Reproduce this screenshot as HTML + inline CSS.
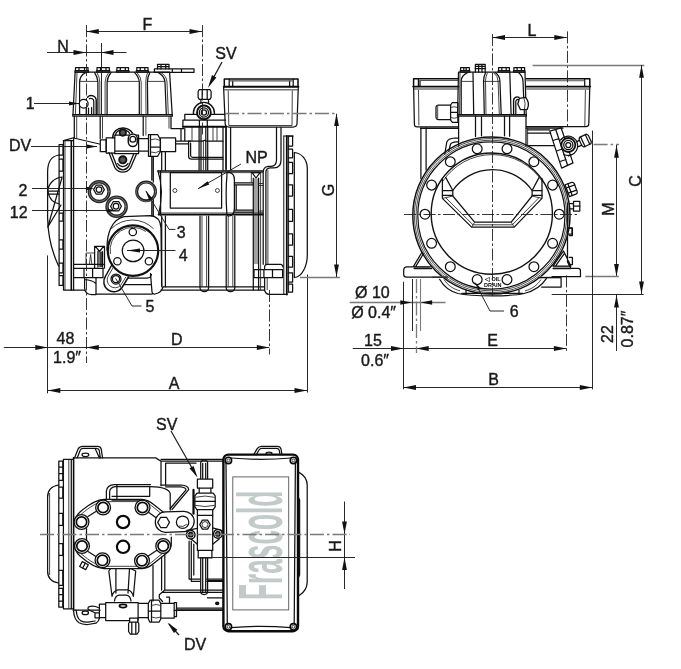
<!DOCTYPE html>
<html><head><meta charset="utf-8"><title>Compressor dimensions</title>
<style>
html,body{margin:0;padding:0;background:#fff}
svg{display:block;will-change:transform}
text{font-family:"Liberation Sans",sans-serif;fill:#1a1a1a;stroke:#1a1a1a;stroke-width:.4px}
.o{fill:none;stroke:#111;stroke-width:1.25;stroke-linejoin:round;stroke-linecap:round}
.k{fill:none;stroke:#0a0a0a;stroke-width:1.6;stroke-linejoin:round;stroke-linecap:round}
.w{fill:#fff;stroke:#111;stroke-width:1.25;stroke-linejoin:round}
.t{fill:none;stroke:#222;stroke-width:.85;stroke-linejoin:round}
.d{fill:none;stroke:#1c1c1c;stroke-width:.95}
.c{fill:none;stroke:#1f1f1f;stroke-width:.9;stroke-dasharray:12 2.5 2.5 2.5}
.c2{fill:none;stroke:#333;stroke-width:.7;stroke-dasharray:7 2 2 2}
.a{fill:#111;stroke:none}
.e{fill:none;stroke:#7a7a7a;stroke-width:1.3}
.e2{fill:none;stroke:#7a7a7a;stroke-width:1.1}
.ce{fill:none;stroke:#7a7a7a;stroke-width:1.3;stroke-dasharray:14 3 2.5 3}
.g{fill:#bcc4c4}
.g2{fill:#9a9a9a}
</style></head><body>
<svg width="681" height="669" viewBox="0 0 681 669">
<rect width="681" height="669" fill="#fff"/>
<g id="front">
<!-- cylinder head bolts -->
<path class="o" d="M75.5 70.5 V67.6 H88 V70.5 M75 70.5 H88.5 V72.2 H75 Z M79 67.6 V70.5 M84.5 67.6 V70.5"/>
<path class="o" d="M97 70.5 V67.6 H109.3 V70.5 M96.5 70.5 H109.8 V72.2 H96.5 Z M100.5 67.6 V70.5 M106 67.6 V70.5"/>
<path class="o" d="M116.9 70.5 V67.6 H128.5 V70.5 M116.4 70.5 H129 V72.2 H116.4 Z M120.3 67.6 V70.5 M125.3 67.6 V70.5"/>
<path class="o" d="M136.8 70.5 V67.6 H148 V70.5 M136.3 70.5 H148.5 V72.2 H136.3 Z M140.2 67.6 V70.5 M144.8 67.6 V70.5"/>
<path class="o" d="M157.5 68.9 V64.3 H169 V68.9 M157.5 66.5 H169 M161 64.3 V68.9 M165.7 64.3 V68.9"/>
<path class="o" d="M154.4 68.9 H194 V72.4 H154.4 Z M172.3 68.9 V72.4 M181.5 68.9 V72.4"/>
<!-- head body -->
<path class="o" d="M75.1 72.2 L73 114.5 H172.2 L169.6 72.2 Z"/>
<path class="o" d="M73 116.2 H172.3 M72.8 114.5 V116.2 M172.4 114.5 V116.2"/>
<path class="t" d="M77 72.6 L75.4 114.5"/>
<path class="o" d="M79.6 114.5 V82 Q79.8 75.5 85.5 72.6"/>
<path class="t" d="M79.6 81.4 H97.6 M107 81.4 H139 M147.4 81.4 H164.8"/>
<path class="o" d="M94.6 72.6 Q97.6 77 97.9 82 V114.5 M111 72.6 Q107.4 77 107.1 82 V114.5"/>
<path class="t" d="M97 72.6 Q99.6 77 99.8 82 V114.5 M108.6 72.6 Q105.3 77 105.1 82 V114.5"/>
<path class="o" d="M134.6 72.6 Q139 77 139.3 82 V114.5 M149.8 72.6 Q147.4 77 147.4 82 L147.8 114.5"/>
<path class="t" d="M137 72.6 Q141 77 141.2 82 V114.5 M147.6 72.6 Q145.8 77 145.8 82 L146 114.5"/>
<path class="o" d="M158.4 72.6 Q164.5 76 165 82 L166.3 114.5"/>
<path class="t" d="M161 72.6 Q166.6 76 167 82 L168.3 114.5"/>
<!-- port 1 -->
<path class="k" d="M86.3 114.5 V99.5 M87.5 97.2 A5 5 0 0 1 96.2 100.8 V114.5" style="stroke-width:1.4"/>
<path class="o" d="M93.8 114.5 V101.5 A3 3 0 0 0 89.3 98.8 M91.6 114.5 V107.5 M88.5 114.5 V108"/>
<circle class="w" cx="83.7" cy="103.8" r="4.4" style="stroke-width:1.3"/>
<!-- block below head -->
<path class="o" d="M74.3 116.2 V137.5 M100.2 116.2 V138.5 M143.2 116.2 V135.5 M171 116.2 V128.6 H183.9"/>
<path class="t" d="M76.7 116.2 V138.5 M102.5 116.2 V138.5 M145.9 116.2 V135.5 M169 116.2 V128.6"/>
<path class="o" d="M73.6 138 L99.5 144 M74.3 137.5 L63.5 140.6"/>
<!-- left flange -->
<path class="o" d="M63.5 140.6 V290 H73.6 M73.6 138 V290 M63.5 140.6 H73.6"/>
<path class="k" d="M71.3 140.6 V290"/>
<path class="t" d="M65 140.6 V290"/>
<path class="o" d="M59.1 144.6 H63 V155.2 H59.1 Z M59.1 159 H63 V171 H59.1 Z M59.1 213 H63 V221 H59.1 Z M59.1 239.8 H63 V249 H59.1 Z M59.1 263 H63 V272.9 H59.1 Z M59.1 275.5 H63 V285.4 H59.1 Z M59.1 144.6 V285.4"/>
<path class="o" d="M59.1 155 C52 156 47.6 162 47.6 172 L47.6 218 C48 236 52 252 58.6 266"/>
<path class="o" d="M62 177 C54 178 48.2 184 47.8 191 M47.8 191 H59 M48.3 194 H59 M47.8 191 C49 199 54 203.5 59.5 204 M62 177.6 L47.8 227 M61 205 L47.8 227"/>
<!-- DV valve -->
<path class="o" d="M100.3 139.8 H106.2 V151.7 H100.3 Z"/>
<path class="o" d="M106.2 137.8 H114.8 V153 H106.2 Z M114.8 135.2 H138.6 V153.7 H114.8 Z M114.8 151 H138.2 M138.6 138.5 H148.5 M138.6 151 H148.5"/>
<path class="k" d="M112.8 137.8 C112.6 131.5 117.5 127.8 123 127.9 C127.5 128 130.5 130 132.3 132.8" style="stroke-width:1.5"/>
<path class="o" d="M115.4 135.2 C116 131.6 119 129.9 122.8 129.9 C126 130 128.3 131.4 129.6 133.3"/>
<circle cx="122.8" cy="132.6" r="3.2" style="fill:#555;stroke:#111;stroke-width:1.7"/>
<path class="w" d="M128.3 138.6 A4.5 4.5 0 0 1 137.3 138.6 V142 A4.5 4.5 0 0 1 128.3 142 Z" style="stroke-width:1.5"/><circle class="o" cx="132.8" cy="139.2" r="2.9"/>
<path class="o" d="M148.5 134.5 H150.5 V156.3 H148.5 Z M150.5 134.5 H157.6 L160.4 139.5 V151.5 L157.6 156.3 H150.5 M150.5 147.1 H160.4"/>
<path class="t" d="M150.5 139.8 Q155.5 137.6 160.4 140.6 M150.5 152 Q155.5 154 160.4 150.8"/>
<path class="o" d="M160.4 137.8 H175.6 V151.7 H160.4 Z"/>
<path class="o" d="M108.9 152.6 L114.8 167.6 Q118 172.2 122.8 172.2 Q127.6 172.2 130.7 167.6 L136.6 153.7 M111.7 153 L117 166.5 Q119.6 169.8 122.8 169.8 Q126 169.8 128.6 166.5 L133.8 153.7" style="stroke-width:1.3"/>
<circle cx="122.8" cy="159.8" r="3.6" style="fill:#555;stroke:#111;stroke-width:1.9"/>
<path class="o" d="M117.6 163.5 A6 6 0 0 0 128 163.5"/>
<!-- ports 2, 12 -->
<g class="o"><circle cx="99.2" cy="191.6" r="9.9" style="stroke-width:3.4;stroke:#262626"/><circle cx="99.2" cy="191.6" r="9.9" style="stroke-width:.5;stroke:#bbb"/>
<polygon class="w" points="104.3,189.6 101.7,194.2 96.3,194.2 93.7,189.6 96.3,185.0 101.7,185.0"/><circle cx="99" cy="189.6" r="2.8"/></g>
<g class="o"><circle cx="116.6" cy="206.7" r="9.6" style="stroke-width:3.4;stroke:#262626"/><circle cx="116.6" cy="206.7" r="9.6" style="stroke-width:.5;stroke:#bbb"/>
<polygon class="w" points="121.4,206.2 118.7,210.9 113.3,210.9 110.6,206.2 113.3,201.5 118.7,201.5"/><circle cx="116" cy="206.2" r="2.8"/></g>
<!-- port 3 sight glass -->
<circle class="o" cx="146.1" cy="191.4" r="9.4" style="stroke-width:3;stroke:#222"/><circle class="o" cx="146.1" cy="191.8" r="9.6" style="stroke-width:.5;stroke:#aaa"/>
<!-- vertical section lines -->
<path class="o" d="M151.8 156.5 V180 M153.3 156.5 V182 M151.8 201.7 V216 M153.3 199.5 V216"/>
<!-- port 4 boss and circle -->
<path class="o" d="M107 250 C106.6 233 112 219.5 124 216.7 L150 215.6 C156.5 216 160.5 220 161 228 L161.7 285.4"/>
<path class="t" d="M111.2 228.8 A30 30 0 0 1 153.6 228.8"/>
<circle class="o" cx="133" cy="250.6" r="25.2" style="stroke-width:2.2"/><path class="t" d="M110.4 254 A22.8 22.8 0 0 1 146 231.5"/>
<circle class="o" cx="133.1" cy="250.8" r="10.8"/>
<circle class="o" cx="132.8" cy="232" r="3.7"/><circle class="o" cx="117.4" cy="261.2" r="3.7"/><circle class="o" cx="148.9" cy="261.2" r="3.7"/>
<!-- lug 5 -->
<path class="o" d="M111.5 265.5 L105.6 276 A10 10 0 0 0 122 287.5 L128.5 277" style="stroke-width:1.5"/>
<path class="t" d="M113.5 267 L108 276.5 A7.8 7.8 0 0 0 120.5 285.5 L126 276.8"/>
<circle class="o" cx="116" cy="279.1" r="5"/><circle class="o" cx="116" cy="279.1" r="3.6"/>
<!-- oil pump lower housing -->
<path class="o" d="M150.5 273.5 L152 292 Q152.3 294.3 155 294 L158 293 Q162 291 163 286.8 M128 278.2 H147 Q151 277.8 151.5 274.5 M124 284.5 H151.4 M152 294.2 H96"/>
<!-- sensor -->
<path class="o" d="M94.6 246.4 H104.5 V268 M94.6 246.4 V268 M95.5 246.4 L99.5 251.5 L103.6 246.4 M97.9 251.7 V267 M102.5 251.7 V267"/>
<path class="t" d="M99.2 251.7 V267 M100.5 251.7 V267 M101.5 251.7 V267 M86 253 H94.6 M86 253 V264.3 M89.4 264.3 L90.6 254.5 L91.8 264.3"/>
<!-- left foot -->
<path class="o" d="M73.6 264.3 H103.5 M73.6 268.3 H103.5 M74 277.5 H103 V268.3 M84 268.3 V277.5 M92.6 268.3 V277.5"/>
<path class="o" d="M84.6 277.5 V288 Q85 294.2 91 294.5 H96 V277.5 M84.6 279.5 Q92 280 95.9 283.5"/>
<path class="o" d="M73.6 290 H84.8"/>
<!-- main body horizontals -->
<path class="k" d="M157.8 171 H263 M158.4 214.6 H263"/>
<path class="t" d="M158 172.6 H263 M158.5 213 H263"/>
<path class="o" d="M163 286.8 H264.6 M161 290 H264.6"/>
<!-- nameplate -->
<path class="o" d="M170.3 172.6 H221.6 V208 H170.3 Z"/>
<circle class="t" cx="174.9" cy="190.5" r="2"/><circle class="t" cx="217.4" cy="190.5" r="2"/>
<path class="o" d="M158 171 Q164.5 191 158.6 214.6 M160.6 171 V214.6"/>
<path class="o" d="M227 174.5 Q226 172.6 229 172.4 Q234.4 173 234.4 180 V208 Q234.4 215.6 229 216 Q226 216 226.8 213 Q225.4 193 227 174.5"/>
<path class="o" d="M234.4 182.9 H253.3 M234.4 184.9 H253.3 M234.4 210 H253.3 M234.4 212 H253.3 M236.2 184.9 V210"/>
<path class="o" d="M251.3 172.6 H260.6 M252 172.6 L256 178 L260 172.6 M253.3 178 V290 M258.6 178 V290"/>
<path class="t" d="M255 178.5 V264 M257 178.5 V264 M260.6 172.6 V290 M251.3 172.6 V182.9 M258.6 183.5 H263.2 M258.6 185.5 H263.2 M258.6 211 H263.2 M258.6 213 H263.2"/>
<!-- lower ribs -->
<path class="o" d="M161.7 216 V286.8 M165.4 216 V286.8 M200 216 V288 Q200.5 291.6 204.3 291.6 Q208.2 291.6 208.6 288 V216 M226.2 216 V288 Q226.6 291.6 230.5 291.6 Q234.4 291.6 234.8 288 V216"/>
<path class="t" d="M202 216 V286.8 M206.6 216 V286.8 M228.2 216 V286.8 M232.8 216 V286.8"/>
<!-- fittings above nameplate -->
<path class="o" d="M161.7 151.7 V170.6 M165.4 151.7 V170.6 M175.6 141 H190.5 M175.6 143.9 H188.6 M181 128.6 V141 M184.8 128.6 V141"/>
<path class="o" d="M188.6 141 H203 Q204.5 139.6 206 141 H223 M188.6 141 V156.5 Q188.8 159.2 191.5 159.2 H223 M190.6 143 V155.5 Q190.8 157.3 192.8 157.3 H223"/>
<path class="o" d="M199.1 126.7 V170 M201 126.7 V170 M205.8 126.7 V170 M207.7 126.7 V170 M223 126.7 V170.5 M225.9 126.7 V170.5"/>
<path class="t" d="M192 126.7 V141 M213 126.7 V141 M217 126.7 V141 M203.4 141 V170"/>
<!-- SV valve -->
<path class="o" d="M182.9 120 H225.6 M182.9 120 V126.7 M184.8 114.3 H225 M184.8 114.3 V120 M199.4 120 V126.7 M207.3 120 V126.7"/>
<path class="k" d="M182.9 126.7 H226" style="stroke-width:1.9"/>
<path class="o" d="M193.4 114.3 V112.9 A10.5 10.5 0 0 1 214.4 112.9 V114.3" style="stroke-width:1.4"/>
<circle class="w" cx="203.9" cy="112.4" r="6.9" style="stroke-width:1.9"/><circle class="o" cx="203.9" cy="112.4" r="4.6"/><circle class="o" cx="203.9" cy="112.4" r="2.6"/>
<path class="o" d="M199.3 89.6 H209.9 L211.1 91.5 V97.4 L209.9 99.3 H199.3 L198.1 97.4 V91.5 Z M202.2 89.6 V99.3 M207.2 89.6 V99.3 M200.9 99.3 V103.2 M208.5 99.3 V103.2"/>
<!-- terminal box -->
<path class="k" d="M224.3 86.7 V78.9 H298 V86.7" style="stroke-width:1.5"/>
<path class="o" d="M229.2 79 V86.7 M293.2 79 V86.7 M232.7 81 V86 M289.6 81 V86"/>
<path d="M229.7 80.9 H292.6" style="fill:none;stroke:#555;stroke-width:1.2"/>
<path class="k" d="M223.8 86.7 H298.4" style="stroke-width:1.9"/>
<path d="M224.2 89.7 H297.9" style="fill:none;stroke:#777;stroke-width:1.6"/>
<path class="o" d="M223.6 86.7 L225.2 124 Q225.5 127 229 127 H293 Q296.6 127 297 124 L298.3 86.7"/>
<path class="t" d="M228.2 90.5 L228.8 125.5 H292 L292.3 90.5"/>
<!-- neck -->
<path class="o" d="M226.2 127.4 V169 M230.6 127.4 V170 M276.5 127.4 V160 Q276.5 166.2 271 166.4 H268 Q263.4 167 263.2 172 V264.3 M281 127.4 V160 Q281 167.9 274 167.9 H270 Q266 168.4 265.9 172 V264.3"/>
<path class="t" d="M267.9 170 V264.3"/>
<!-- motor flange -->
<path class="o" d="M283.8 136 V294.5 M283.8 136 H293.4 M288.6 136 V292.3" style="stroke-width:1"/>
<path class="k" d="M286.8 136 V294.5" style="stroke-width:1.8"/>
<path class="o" d="M288.3 136 H292.6 V146 H288.3 M288.3 149.2 H292.6 V157.8 H288.3 M288.3 162.4 H292.6 V173.7 H288.3 M288.3 184.9 H292.6 V196 H288.3 M288.3 209.4 H292.6 V221.3 H288.3 M288.3 233.9 H292.6 V245 H288.3 M288.3 256.4 H292.6 V267 H288.3 M288.3 272.9 H292.6 V282 H288.3 M288.3 284 H292.6 V292 H288.3"/>
<path class="o" d="M294.3 152.5 V277.5 M294.3 152.5 C301 153 307.3 159 307.3 168.5 V255 C307.3 266 302 277 294.3 277.5"/>
<!-- right foot -->
<path class="o" d="M254 269.6 H282.6 V277.5 H254 Z M263.9 269.6 V277.5 M272.5 269.6 V277.5 M264.6 269.6 V266.3 Q265 264.3 267 264.3 H281 Q283 265 283 267"/>
<path class="o" d="M264.6 277.5 V290 Q265.5 294.2 269 294.3 H287.2"/>
<path class="t" d="M267.2 277.5 V290"/>

</g>
<g id="side">
<!-- terminal box (behind) -->
<path class="k" d="M413.6 86.6 V78.7 H458.5 M526.3 78.7 H589.8 V86.6" style="stroke-width:1.5"/>
<path class="o" d="M418.4 79 V86.6 M420 80.4 V86 M584.7 79 V86.6"/>
<path d="M419.6 80.5 H458.5 M526.3 80.7 H584.5" style="fill:none;stroke:#555;stroke-width:1.1"/>
<path class="k" d="M413.2 86.6 H458.5 M526.3 86.6 H590.2" style="stroke-width:1.9"/>
<path d="M413.8 89 H458.5 M526.3 89 H589.6" style="fill:none;stroke:#777;stroke-width:1.5"/>
<path class="o" d="M413.6 86.6 L414.4 124.5 Q414.6 126.8 417 126.8 H458.5 M589.8 86.6 L588.8 124 Q588.6 126.6 586 126.6 H526.3 M420.5 128.3 H458.5 M526.3 128.2 H563"/>
<path class="t" d="M418.5 90 L418.9 125.4 M585.4 90 L584.8 126"/>
<!-- box support -->
<path class="o" d="M420.9 127.8 V178.5 M426.1 127.8 V170"/>
<!-- cable gland -->
<path class="o" d="M450.6 105 H438.5 Q436 105 436 107.5 V117 Q436 119.5 438.5 119.5 H450.6"/>
<path d="M437.4 105.6 V118.9" style="fill:none;stroke:#666;stroke-width:1.6"/>
<path class="o" d="M452.4 102.5 H457.9 V122.4 H452.4 L450.6 120 V105 Z M450.6 112.3 H457.9"/>
<path class="t" d="M450.6 107.5 Q454.3 106 457.9 107.5 M450.6 117.5 Q454.3 119 457.9 117.5"/>
<!-- head bolts -->
<path class="o" d="M460.6 70.5 V67.6 H469.4 V70.5 M460.2 70.5 H469.8 V72.2 H460.2 Z M463.8 67.6 V70.5 M466.2 67.6 V70.5"/>
<path class="o" d="M498.6 70.5 V67.6 H509.4 V70.5 M498.2 70.5 H509.8 V72.2 H498.2 Z M501.8 67.6 V70.5 M506.2 67.6 V70.5"/>
<path class="o" d="M513.9 70.5 V67.6 H524.6 V70.5 M513.5 70.5 H525.0 V72.2 H513.5 Z M517.1 67.6 V70.5 M521.4 67.6 V70.5"/>
<path class="o" d="M475.4 72.2 V64.3 H485.2 V72.2 M475 68.6 H485.6 M475.4 66.4 H485.2 M478.6 64.3 V72.2 M482 64.3 V72.2"/>
<!-- head -->
<path class="o" d="M458.5 72.2 L457.6 114.5 H526.2 L525 72.2 Z M457.6 116.2 H526.3 M457.5 114.5 V116.2 M526.4 114.5 V116.2"/>
<path class="o" d="M461.2 114.5 V81 Q461.4 75.5 467.5 72.6 M473 72.6 L473.7 114.5 M485.6 72.6 Q483.6 77 483.6 81 L484.3 114.5 M495.3 72.6 Q499.8 76 499.9 81 L501.2 114.5 M509.8 72.6 L511.1 114.5 M518.4 72.6 Q522.8 76 523 81.4 L524.4 114.5"/>
<path class="t" d="M461.2 81.4 H473.2 M483.6 81.4 H499.9 M460 72.6 L459.5 114.5 M487.5 72.6 Q485.5 77 485.5 81 L486 114.5 M493.5 72.6 Q498 76 498.1 81 L499.3 114.5"/>
<!-- port 1 side -->
<path class="k" d="M513.6 114.5 V100.5 A3.6 3.6 0 0 1 519 97.4" style="stroke-width:1.4"/><path class="o" d="M515.8 114.5 V101.5 A2 2 0 0 1 518.4 99.6"/>
<path class="w" d="M519.4 98.4 L525.6 97.4 Q530.4 103 527.2 109.4 L520.4 109.6 L517.8 104 Z" style="stroke-width:1.3"/><path class="t" d="M523.8 97.8 Q526.2 103.4 524.4 109.4"/>
<!-- block below head -->
<path class="o" d="M458.6 116.2 V146 M526 116.2 V146 M475.5 116.2 V136.5 M481.5 116.2 V135.8 M504.5 116.2 V135.8 M509.6 116.2 V136.2"/>
<path class="t" d="M527.6 127.8 V146.5"/>
<!-- lug upper left -->
<path class="o" d="M458.6 138 H454.7 Q448 138.5 446.8 142 L444.8 153.8 M458.6 141.8 H456.5 Q451.3 142 450.4 144.5 L448.8 151.5"/>
<!-- rings -->
<circle class="o" cx="491.4" cy="215.5" r="78.6" style="stroke-width:1.5"/>
<circle class="t" cx="491.4" cy="215.5" r="77.0" style="stroke-width:0.8"/>
<circle class="t" cx="491.4" cy="215.5" r="75.3" style="stroke-width:0.8"/>
<circle class="o" cx="491.4" cy="215.5" r="73.6" style="stroke-width:1.2"/>
<circle class="o" cx="491.8" cy="213.6" r="60.6" style="stroke-width:1.4"/>
<path class="t" d="M442.4 181.9 A59.6 59.6 0 0 1 542.6 181.9"/>
<!-- bolts -->
<circle class="w" cx="559.2" cy="214.2" r="4.9"/>
<circle class="w" cx="552.6" cy="185.1" r="4.9"/>
<circle class="w" cx="533.9" cy="161.7" r="4.9"/>
<circle class="w" cx="507.0" cy="148.8" r="4.9"/>
<circle class="w" cx="477.2" cy="148.8" r="4.9"/>
<circle class="w" cx="450.3" cy="161.7" r="4.9"/>
<circle class="w" cx="431.6" cy="185.1" r="4.9"/>
<circle class="w" cx="425.0" cy="214.2" r="4.9"/>
<circle class="w" cx="431.6" cy="243.3" r="4.9"/>
<circle class="w" cx="450.3" cy="266.7" r="4.9"/>
<circle class="w" cx="477.2" cy="279.6" r="4.9"/>
<circle class="w" cx="507.0" cy="279.6" r="4.9"/>
<circle class="w" cx="533.9" cy="266.7" r="4.9"/>
<circle class="w" cx="552.6" cy="243.3" r="4.9"/>
<!-- hex opening -->
<path class="o" d="M442.4 178.4 V198.4 L471.6 227.1 H514.2 L542 198.4 V178.4"/>
<path class="o" d="M452.8 190.5 A48.2 48.2 0 0 1 532.1 190.5 V196 L511.2 222.2 H474.6 L452.8 196 Z"/>
<path class="o" d="M442.4 190.5 H452.8 M442.4 195.4 H452.8 M532.1 190.5 H542 M532.1 195.4 H542 M445.8 177.6 L452.8 190.5 M539 177.6 L532.1 190.5"/>
<path class="t" d="M442.4 198.4 L452.8 196 M471.6 227.1 L474.6 222.2 M514.2 227.1 L511.2 222.2 M542 198.4 L532.1 196 M445.6 197.6 L473 224.8 H512.4 L539 197.6"/>
<!-- left foot -->
<rect class="g2" x="414" y="266.2" width="15.6" height="2.4"/><rect class="g2" x="432" y="276.4" width="15" height="1.6"/><rect class="g2" x="553" y="266.2" width="17.8" height="2.4"/><rect class="g2" x="538" y="276.6" width="23" height="1.6"/>
<path class="o" d="M431.6 266.9 H407 Q403.7 267 403.7 270 V274.5 Q403.7 277.1 406.5 277.1 H447 M413.2 266.9 L422 252.2 M415.5 266.9 L423.4 253.8 M431.6 268.6 H414"/>
<!-- right foot -->
<path class="o" d="M553 266.2 H570.8 M570.8 268.3 H578 Q580.3 268.3 580.4 270.5 L580.5 276.7 H552 M553 266.2 L563.5 251 M555.5 266.2 L564.4 253.4 M563.8 251.5 L570.8 266 M567.5 203 V262 L570.8 268.3 M553 268.6 H570.8"/>
<path class="o" d="M569.2 228.2 H572.4 V235.5 H569.2 M569.2 257.3 H572.4 V264.6 H569.2"/>
<path class="o" d="M538.5 277.5 H561.1 V287.2 H541.7"/>
<!-- sump -->
<path class="o" d="M439.6 279.3 C444 287 450 291.5 458 293.5 C466 295.3 478 295.8 492.5 295.8 C507 295.8 516 295.3 524 293.5 C532 291.5 541 287 546.5 278.3 M466 290.3 V294.2 M519 290.3 V294.2 M462 293.4 H523"/>
<path class="t" d="M444 279.5 C448 285.5 453 289 460 290.8 M541 279.5 C537 285.5 532 289 525 290.8 M447 277.1 Q446 280 448.5 281.5"/>
<!-- oil drain label -->
<text x="492.8" y="280.7" font-size="5.5" font-weight="bold" text-anchor="middle" style="fill:#0a0a0a;stroke:none">◁ OIL</text><text x="492.8" y="286.6" font-size="5.5" font-weight="bold" text-anchor="middle" style="fill:#0a0a0a;stroke:none">DRAIN</text>
<!-- SV side -->
<path class="o" d="M549.8 131.1 L561.1 127.8 L573 162.9 L561.7 168.1 Z M555.8 129.8 L567.7 165.5 M553 140.5 L559 138.5 M556.5 151 L562.4 149 M560 161.5 L566 159.5 M563.5 141 L568.5 139.5 M568.5 156 L572 154.5"/>
<path class="o" d="M560.5 140 A9.6 9.6 0 1 1 564 154.5"/>
<circle class="w" cx="568.3" cy="145" r="7" style="stroke-width:1.8"/><circle class="o" cx="568.3" cy="145" r="4.6"/><circle class="o" cx="568.3" cy="145" r="2.5"/>
<g transform="rotate(-25 585.2 140.6)"><path class="w" d="M581.4 135.3 H589 L590.3 137 V144.2 L589 145.9 H581.4 L580.1 144.2 V137 Z"/><path class="o" d="M582.6 135.3 V145.9 M587.8 135.3 V145.9 M576.5 138 H580.1 M576.5 143.2 H580.1"/></g>
<path class="o" d="M527.6 129.8 H549.5 M527.6 133.2 H550.6 M528.7 145.7 H554.6"/>
<!-- right side plugs -->
<g transform="rotate(-20 571 189.3)"><path class="w" d="M567 183 H574 Q576 183.4 576 185 V193.6 Q576 195.4 574 195.6 H567 Z"/><path class="o" d="M567 186.5 H576 M567 192 H576 M570 183 V195.6"/></g>
<path class="w" d="M573.5 201.3 H579.8 V211 H573.5 Z"/><path class="o" d="M573.5 206 H579.8 M569.5 203.5 H573.5 M569.5 208.8 H573.5"/>
<path class="o" d="M568.5 227.8 H572 V234.2 H568.5"/>
</g>
<g id="top">
<!-- left end cover -->
<path class="o" d="M58.8 485 C52 486 47.6 490 47.6 497 V571 C47.6 578 52 582 58.6 583"/><path class="t" d="M49.6 493 V575"/>
<path class="o" d="M58.8 461.2 H62.8 V480.4 H58.8 Z M58.8 467 H62.8 M58.8 473.5 H62.8 M58.8 487 H62.8 V498.2 H58.8 Z M58.8 513.4 H62.8 V525.3 H58.8 Z M58.8 543.6 H62.8 V555.4 H58.8 Z M58.8 570.3 H62.8 V585.3 H58.8 Z M58.8 588.4 H62.8 V607.2 H58.8 Z M58.8 594.5 H62.8 M58.8 601 H62.8 M58.8 461.2 V607.2"/>
<!-- flange -->
<path class="o" d="M63.4 459.3 H73.3 M63.4 459.3 V608.8 H73.3 M71.3 459.3 V608.8"/><path class="k" d="M73.6 457.9 V610.2"/><path class="t" d="M68.8 459.3 V608.8"/>
<!-- body outline -->
<path class="o" d="M73.3 457.9 H155.7 L161 461.2 V485.7 M165.6 463.2 V485 M161 459.3 H223 M161 461.2 H223 M165.6 463.2 H196 M73.3 610.2 H100"/>
<path class="o" d="M176.5 608.2 H223 M176.5 609.8 H223 M164.8 590 H223 M162 592.3 H223 M164.8 590 L159.3 594.7 V598 L162.5 601.5 M161.6 557 V590 M164.8 554 V590 M153 565.6 V601"/>
<!-- lugs -->
<path class="o" d="M74.5 457.9 L78.3 448.6 Q79.5 446.3 83 446.3 H97.5 Q100.5 446.3 101.2 449 L102.6 457.9 M77.2 457.9 L80.3 450 Q81 448.3 83.5 448.3 H96.5 Q98.8 448.4 99.3 450.5 L100.3 457.9 M95 448.3 L99.5 457.9"/><ellipse class="o" cx="85.4" cy="454.8" rx="3.4" ry="1.8"/>
<path class="o" d="M73.5 610.2 Q74 619.5 79 622.8 Q82.5 624.8 88 624.5 L96 623.2 Q98.8 621.5 99.4 618.2 M76.2 610.2 Q76.8 618 80.5 620.6 Q83.5 622.4 88 622.2 L95 621"/><ellipse class="o" cx="85.3" cy="612.9" rx="3.2" ry="1.7"/>
<!-- head outline -->
<path class="o" d="M73.8 526 C74 519 76 515.5 80 512 C88 505 97 499.5 104 499.3 H142 C147 499.5 150 501.5 153 504 L165 513.5 M73.8 542 C74 549 76 552.5 80 556 C88 563 97 568.3 104 568.6 H142 C147 568.3 150 566.5 153 564 L168 552 C171 549 171.5 546 171.3 542 V537"/>
<path class="t" d="M76.2 526 C76.5 520 78 517 81.5 514 C89 507.5 97.5 501.8 104 501.6 H142 C146 501.8 149 503.5 151.5 505.7 L163 515 M76.2 542 C76.5 548 78 551 81.5 554 C89 560.5 97.5 566 104 566.3 H142 C146 566 149 564.5 151.5 562.3 L166 550.5"/>
<path class="o" d="M86.5 528.5 V539.5 M88 516.5 L97.5 510.5 M147.5 511.5 L157.5 518.8 M88 551.5 L97.5 557.5 M147.5 556.5 L158 549.5"/>
<circle class="w" cx="81.5" cy="522.0" r="7.4" style="stroke-width:1.3"/><circle class="k" cx="81.5" cy="522.0" r="5.2" style="stroke-width:1.7"/>
<circle class="w" cx="103.1" cy="507.5" r="7.4" style="stroke-width:1.3"/><circle class="k" cx="103.1" cy="507.5" r="5.2" style="stroke-width:1.7"/>
<circle class="w" cx="142.5" cy="507.5" r="7.4" style="stroke-width:1.3"/><circle class="k" cx="142.5" cy="507.5" r="5.2" style="stroke-width:1.7"/>
<circle class="w" cx="163.2" cy="546.0" r="7.4" style="stroke-width:1.3"/><circle class="k" cx="163.2" cy="546.0" r="5.2" style="stroke-width:1.7"/>
<circle class="w" cx="142.0" cy="560.7" r="7.4" style="stroke-width:1.3"/><circle class="k" cx="142.0" cy="560.7" r="5.2" style="stroke-width:1.7"/>
<circle class="w" cx="102.5" cy="560.3" r="7.4" style="stroke-width:1.3"/><circle class="k" cx="102.5" cy="560.3" r="5.2" style="stroke-width:1.7"/>
<circle class="w" cx="82.0" cy="546.0" r="7.4" style="stroke-width:1.3"/><circle class="k" cx="82.0" cy="546.0" r="5.2" style="stroke-width:1.7"/>
<circle class="k" cx="123.1" cy="522.0" r="6.2" style="stroke-width:2.2"/>
<circle class="k" cx="123.1" cy="546.8" r="6.2" style="stroke-width:2.2"/>
<!-- upper pocket -->
<path class="o" d="M106.4 498.8 V491 Q107 485 114.3 484.6 H150.4 M109.6 499 V492 Q110 487 115.5 486.6 H150.4 Q168.5 487 170.2 493.6 V510 M116.9 484.6 V500.2 M149.7 486.3 V496.3 M112 496.3 H149.7 M112 500.2 H142"/>
<path class="o" d="M161 485 H181 Q188.5 485.5 188.7 489.6 L172 509.5 M165.6 486.8 H180.5 Q186 487.2 186 489.8 L170.2 508.5"/>
<!-- discharge flange -->
<path class="w" d="M165.5 511.6 H184 A10.2 10.2 0 0 1 184 532 H165.5 A10.2 10.2 0 0 1 165.5 511.6 Z" transform="rotate(-2 174 522)"/>
<polygon class="o" points="169.5,522.4 166.5,527.5 160.7,527.5 157.7,522.4 160.7,517.3 166.5,517.3"/><circle class="o" cx="182.6" cy="522.2" r="6.2"/><path class="t" d="M179 526 Q183 527.8 186.8 524.2"/>
<!-- DV neck + valve (top view) -->
<path class="o" d="M110.4 568.8 L108.8 571 L112 596 M131 568.8 L135.7 571 L133.4 596 M115.9 569 V593 M129.5 569 L128 593 M112 596.3 Q113 591 118 589.8 H127.5 Q132 590.5 133.4 596.3 M114.5 601 Q115 596 119 595.2 H126.5 Q130.5 596 131 601"/>
<path class="o" d="M105.7 602.5 H138.1 V620.6 H105.7 Z M99.4 604.1 H105.7 M99.4 617.5 H105.7 M99.4 604.1 V617.5 M138.1 603.3 H148.3 M138.1 617.5 H148.3"/>
<ellipse class="k" cx="123" cy="606" rx="3.6" ry="1.6"/>
<path class="o" d="M88.4 607 Q92 605.4 95.5 606.5 L99.4 608 M90 610.5 L95 612.8 V617.8 H99.4 M95 612.8 H99.4 M88.4 607 Q87 609.5 90 610.5"/>
<path class="o" d="M150 600.2 H159 L160.8 603.5 V619 L159 622.2 H150 L148.3 619 V603.5 Z M148.3 611.2 H160.8 M151.5 600.2 V622.2"/><path class="t" d="M151.5 605.5 Q156 603.5 160.8 605.5 M151.5 617 Q156 619 160.8 617"/>
<path class="o" d="M160.8 603.3 H174.2 V618.2 H160.8 M174.2 602.5 H176.5 V616.7 H174.2 M166.5 597 H169.5 V603.3"/>
<path class="w" d="M129.6 618.2 H137.8 V622 L138.8 623.5 V631.5 L137.2 634 H130.2 L128.6 631.5 V623.5 L129.6 622 Z"/><path class="o" d="M129.6 622 H137.8 M131.8 623 V634 M135.8 623 V634"/>
<!-- small square plug -->
<g transform="rotate(28 84 565.6)"><rect class="w" x="80.6" y="562.8" width="6.8" height="5.6"/><path class="o" d="M84 562.8 V568.4"/></g>
<!-- SV valve top view -->
<g transform="translate(.9 .3)">
<path class="o" d="M199.8 478.8 V462.5 Q200 459.8 203.2 459.7 Q206.5 459.8 206.7 462.5 V478.8 M201.8 478.8 V463 M204.8 478.8 V463"/>
<path class="w" d="M196.5 478.8 H211.8 V487.7 H196.5 Z"/><path class="o" d="M198.3 487.7 V492.8 M210 487.7 V492.8"/>
<path class="w" d="M196 492.8 H212.3 L214.3 495.5 V506.5 L212.3 509.3 H196 L194 506.5 V495.5 Z"/><path class="o" d="M194 501 H214.3 M196.5 509.3 V550 M211.8 509.3 V550"/><path class="t" d="M194.5 497 Q204 494.5 213.8 497 M194.5 505 Q204 507.5 213.8 505"/>
<path class="k" d="M192.6 489.6 V513.4" style="stroke-width:2.2"/>
<path class="o" d="M196.5 515 H211.8 M196.5 544 L190 538.5 M211.8 544 L218.5 538.5 M196.5 528 L186 530 M211.8 527.5 L222 530.5"/>
<polygon class="o" points="209.3,524.3 206.7,528.8 201.5,528.8 198.9,524.3 201.5,519.8 206.7,519.8"/><circle class="t" cx="204.1" cy="524.3" r="3"/>
<circle class="w" cx="189.8" cy="534.4" r="4.3" style="stroke-width:1.5"/><circle cx="189.8" cy="534.4" r="2.2" style="fill:#777;stroke:#111;stroke-width:1.3"/><circle class="w" cx="217" cy="533.6" r="4.3" style="stroke-width:1.5"/><circle cx="217" cy="533.6" r="2.2" style="fill:#777;stroke:#111;stroke-width:1.3"/>
<path class="o" d="M196.5 550 H211.8 M197.3 550 V557.6 H211 V550 M199.8 557.6 V591.5 Q200 594.2 203.2 594.3 Q206.5 594.2 206.7 591.5 V557.6 M201.8 557.6 V592 M204.8 557.6 V592"/>
</g>
<path class="o" d="M189.1 541 V579 H199.8 M193.8 544 V575 M191.3 541 V581.3 H199.8 M206.7 579 H223 M206.7 581.3 H223"/>
<path class="o" d="M207.4 580.5 H222.3 M207.4 597.8 H222.3 M174.2 610.3 H222.3"/><ellipse class="k" cx="217.2" cy="603.4" rx="1.4" ry="1"/>
<!-- terminal box -->
<rect x="223.4" y="454.6" width="74.6" height="176.6" rx="5" class="w" style="stroke-width:2.4;stroke:#0a0a0a"/>
<path class="o" d="M226 462 L227.3 624 M295.4 462 L294.2 624 M231 458 Q260 460.6 291 458 M231 627.6 Q260 625 291 627.6"/>
<rect x="232.8" y="476.9" width="55.9" height="133" style="fill:none;stroke:#555;stroke-width:.9"/>
<circle class="k" cx="228.4" cy="460.4" r="3.2"/><circle class="t" cx="228.4" cy="460.4" r="1.4"/>
<circle class="k" cx="293.4" cy="460.4" r="3.2"/><circle class="t" cx="293.4" cy="460.4" r="1.4"/>
<circle class="k" cx="228.4" cy="626.8" r="3.2"/><circle class="t" cx="228.4" cy="626.8" r="1.4"/>
<circle class="k" cx="293.4" cy="626.8" r="3.2"/><circle class="t" cx="293.4" cy="626.8" r="1.4"/>
<text transform="translate(282.2 600) rotate(-90) scale(.419 1)" font-size="62.6" font-weight="bold" style="fill:#c3caca;stroke:none">Frascold</text>
<!-- handle lug -->
<path class="o" d="M253.7 454.6 L257.2 448.6 Q258.6 446.3 261.5 446.3 H277.5 Q280.2 446.4 281 449 L282 454.6 M256.3 454.6 L259 450 Q260 448.4 262 448.4 H277 Q278.8 448.5 279.3 450.4 L280 454.6"/><ellipse class="o" cx="269" cy="453.2" rx="3" ry="1.2"/>
<!-- motor end cover -->
<path class="o" d="M298.9 472.4 C304 475 307.2 479 307.2 485 V582 C307.2 588 304 592.5 298.9 595.8 M298.2 497 L299.6 500 V575 L298.2 578"/>
</g>
<g id="dims">
<path class="c" d="M86.5 25.0 L86.5 363.0"/>
<path class="c" d="M202.5 25.0 L202.5 136.0"/>
<path class="d" d="M86.0 31.5 L202.0 31.5"/>
<polygon class="a" points="86.3,31.5 98.8,29.1 98.8,33.9"/>
<polygon class="a" points="202.0,31.5 189.5,33.9 189.5,29.1"/>
<text transform="translate(147.5 30.0) scale(1.0 1)" font-size="16" text-anchor="middle">F</text>
<path class="d" d="M47.0 52.5 L126.5 52.5"/>
<polygon class="a" points="86.0,52.5 73.5,54.9 73.5,50.1"/>
<polygon class="a" points="101.0,52.5 113.5,50.1 113.5,54.9"/>
<path class="d" d="M101.5 43.0 L101.5 114.0"/>
<text transform="translate(63.0 52.0) scale(1.0 1)" font-size="16" text-anchor="middle">N</text>
<text transform="translate(30.3 108.5) scale(1.0 1)" font-size="16" text-anchor="middle">1</text>
<path class="d" d="M34.0 103.5 L79.0 103.5"/>
<polygon class="a" points="79.0,103.5 69.0,105.5 69.0,101.5"/>
<text transform="translate(20.0 151.0) scale(1.0 1)" font-size="16" text-anchor="middle">DV</text>
<path class="d" d="M31.0 146.5 L97.0 146.5"/>
<polygon class="a" points="97.0,146.5 87.0,148.5 87.0,144.5"/>
<text transform="translate(23.0 196.0) scale(1.0 1)" font-size="16" text-anchor="middle">2</text>
<path class="d" d="M32.0 188.5 L90.0 188.5"/>
<polygon class="a" points="94.0,188.5 86.0,190.3 86.0,186.7"/>
<text transform="translate(18.7 217.7) scale(1.0 1)" font-size="16" text-anchor="middle">12</text>
<path class="d" d="M32.0 210.5 L110.0 210.5"/>
<polygon class="a" points="116.5,210.5 107.5,212.3 107.5,208.7"/>
<text transform="translate(181.3 237.5) scale(1.0 1)" font-size="16" text-anchor="middle">3</text>
<path class="d" d="M146 191 L169 229.4 L175.5 229.4"/>
<polygon class="a" points="145.4,190.3 152.8,198.7 149.4,200.8"/>
<text transform="translate(183.3 261.0) scale(1.0 1)" font-size="16" text-anchor="middle">4</text>
<path class="d" d="M127.0 250.5 L175.5 250.5"/>
<polygon class="a" points="127.0,250.5 140.0,248.6 140.0,252.4"/>
<text transform="translate(150.0 312.0) scale(1.0 1)" font-size="16" text-anchor="middle">5</text>
<path class="d" d="M115.6 278.3 L132 306 L141.5 306"/>
<text transform="translate(65.4 344.3) scale(1.0 1)" font-size="16" text-anchor="middle">48</text>
<text transform="translate(67.0 363.3) scale(1.0 1)" font-size="16" text-anchor="middle">1.9″</text>
<path class="d" d="M3.8 347.5 L269.3 347.5"/>
<polygon class="a" points="47.8,347.5 35.3,349.9 35.3,345.1"/>
<polygon class="a" points="86.3,347.5 98.8,345.1 98.8,349.9"/>
<polygon class="a" points="269.3,347.5 256.8,349.9 256.8,345.1"/>
<path class="d" d="M47.5 255.4 L47.5 393.3"/>
<text transform="translate(176.8 345.3) scale(1.0 1)" font-size="16" text-anchor="middle">D</text>
<path class="c" d="M269.5 290.0 L269.5 354.5"/>
<path class="d" d="M47.8 390.5 L307.0 390.5"/>
<polygon class="a" points="47.8,390.5 60.3,388.1 60.3,392.9"/>
<polygon class="a" points="307.0,390.5 294.5,392.9 294.5,388.1"/>
<text transform="translate(174.0 389.0) scale(1.0 1)" font-size="16" text-anchor="middle">A</text>
<path class="d" d="M307.5 274.5 L307.5 392.6"/>
<path class="e" d="M300.0 277.5 L340.0 277.5"/>
<path class="ce" d="M225.0 113.5 L336.5 113.5"/>
<path class="d" d="M336.5 113.8 L336.5 277.0"/>
<polygon class="a" points="336.5,113.4 338.9,125.9 334.1,125.9"/>
<polygon class="a" points="336.5,277.0 334.1,264.5 338.9,264.5"/>
<text transform="translate(333.5 190.0) rotate(-90) scale(1.0 1)" font-size="16" text-anchor="middle">G</text>
<text transform="translate(226.0 59.0) scale(1.0 1)" font-size="16" text-anchor="middle">SV</text>
<path class="d" style="stroke-width:1.3" d="M222 62 L210 84"/>
<polygon class="a" points="208.0,87.7 212.0,75.1 216.4,77.5"/>
<text transform="translate(256.6 163.0) scale(1.0 1)" font-size="16" text-anchor="middle">NP</text>
<path class="d" d="M241.0 164.0 L198.0 188.8"/>
<polygon class="a" points="198.0,188.8 207.5,181.2 209.3,184.4"/>
<path class="c" d="M492.5 34.0 L492.5 296.0"/>
<path class="c" d="M567.5 31.4 L567.5 127.0"/>
<path class="d" d="M492.3 37.5 L566.8 37.5"/>
<polygon class="a" points="492.5,37.5 505.0,35.1 505.0,39.9"/>
<polygon class="a" points="566.8,37.5 554.3,39.9 554.3,35.1"/>
<text transform="translate(532.0 36.0) scale(1.0 1)" font-size="16" text-anchor="middle">L</text>
<path class="e" d="M532.6 65.5 L644.4 65.5"/>
<path class="d" d="M641.5 65.0 L641.5 294.0"/>
<polygon class="a" points="641.5,65.3 643.9,77.8 639.1,77.8"/>
<polygon class="a" points="641.5,294.0 639.1,281.5 643.9,281.5"/>
<path class="d" d="M551.7 294.5 L643.7 294.5"/>
<text transform="translate(640.5 181.0) rotate(-90) scale(1.0 1)" font-size="16" text-anchor="middle">C</text>
<path class="ce" d="M593.6 144.5 L619.0 144.5"/>
<path class="d" d="M616.5 145.0 L616.5 276.5"/>
<polygon class="a" points="616.5,145.2 618.9,157.7 614.1,157.7"/>
<polygon class="a" points="616.5,276.4 614.1,263.9 618.9,263.9"/>
<path class="e" d="M585.3 276.5 L618.8 276.5"/>
<text transform="translate(614.0 209.0) rotate(-90) scale(1.0 1)" font-size="16" text-anchor="middle">M</text>
<path class="d" d="M616.5 294.5 L616.5 351.0"/>
<polygon class="a" points="616.5,294.9 618.9,307.4 614.1,307.4"/>
<text transform="translate(612.7 334.0) rotate(-90) scale(1.0 1)" font-size="16" text-anchor="middle">22</text>
<text transform="translate(633.0 329.0) rotate(-90) scale(1.0 1)" font-size="16" text-anchor="middle">0.87″</text>
<path class="d" d="M592.5 130.5 L592.5 389.3"/>
<path class="d" d="M403.5 387.5 L592.3 387.5"/>
<polygon class="a" points="403.5,387.5 416.0,385.1 416.0,389.9"/>
<polygon class="a" points="592.3,387.5 579.8,389.9 579.8,385.1"/>
<text transform="translate(493.5 385.0) scale(1.0 1)" font-size="16" text-anchor="middle">B</text>
<path class="d" d="M403.5 281.8 L403.5 389.3"/>
<path class="d" d="M352.7 348.5 L566.4 348.5"/>
<polygon class="a" points="403.5,348.5 391.0,350.9 391.0,346.1"/>
<polygon class="a" points="416.2,348.5 428.7,346.1 428.7,350.9"/>
<polygon class="a" points="566.4,348.5 553.9,350.9 553.9,346.1"/>
<text transform="translate(373.0 345.5) scale(1.0 1)" font-size="16" text-anchor="middle">15</text>
<text transform="translate(375.0 366.0) scale(1.0 1)" font-size="16" text-anchor="middle">0.6″</text>
<text transform="translate(492.5 345.5) scale(1.0 1)" font-size="16" text-anchor="middle">E</text>
<path class="ce" d="M416.5 279.0 L416.5 353.0"/>
<path class="c" d="M566.5 275.4 L566.5 351.6"/>
<path class="e" d="M349.7 302.5 L445.5 302.5"/>
<polygon class="a" points="411.8,302.5 400.3,304.7 400.3,300.3"/>
<polygon class="a" points="420.6,302.5 432.1,300.3 432.1,304.7"/>
<path class="d" d="M412.5 279.0 L412.5 331.0"/>
<path class="e2" d="M420.5 279.0 L420.5 331.0"/>
<text transform="translate(372.4 298.0) scale(1.0 1)" font-size="16" text-anchor="middle">Ø 10</text>
<text transform="translate(373.6 317.6) scale(1.0 1)" font-size="16" text-anchor="middle">Ø 0.4″</text>
<text transform="translate(514.3 317.0) scale(1.0 1)" font-size="16" text-anchor="middle">6</text>
<path class="d" d="M475 282.5 L490 311 L504 311"/>
<polygon class="a" points="476.2,283.2 480.9,288.6 478.1,290.1"/>
<path class="c" d="M404.0 214.5 L578.0 214.5"/>
<text transform="translate(166.7 429.5) scale(1.0 1)" font-size="16" text-anchor="middle">SV</text>
<path class="d" style="stroke-width:1.2" d="M171 431 L196 475"/>
<polygon class="a" points="197.5,477.5 189.5,468.3 193.6,465.9"/>
<text transform="translate(195.0 650.0) scale(1.0 1)" font-size="16" text-anchor="middle">DV</text>
<path class="d" style="stroke-width:1.2" d="M179 635 L169 624"/>
<polygon class="a" points="167.5,622.5 177.4,629.7 173.9,633.0"/>
<path class="d" d="M344.5 501.5 L344.5 589.0"/>
<polygon class="a" points="344.5,534.0 342.1,521.5 346.9,521.5"/>
<polygon class="a" points="344.5,557.5 346.9,570.0 342.1,570.0"/>
<text transform="translate(341.0 546.0) rotate(-90) scale(1.0 1)" font-size="16" text-anchor="middle">H</text>
<path class="ce" d="M40.0 534.5 L350.0 534.5"/>
<path class="d" d="M200.0 557.5 L355.0 557.5"/>
</g>
</svg>
</body></html>
